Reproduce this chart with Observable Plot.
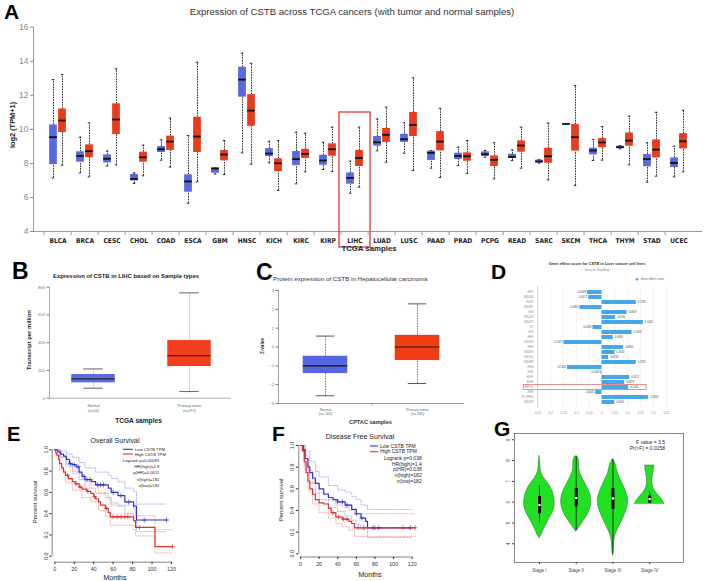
<!DOCTYPE html>
<html>
<head>
<meta charset="utf-8">
<script src="https://cdn.jsdelivr.net/npm/d3@7"></script>
<script src="https://cdn.jsdelivr.net/npm/@observablehq/plot@0.6"></script>
<style>
  body { margin: 0; background: #fff; }
  #fig { position: relative; width: 709px; height: 581px; overflow: hidden; background: #fff; }
  #fig svg { position: absolute; overflow: visible; }
</style>
</head>
<body>
<div id="fig"></div>
<script>
// ---------- Panel A: CSTB across TCGA cancers ----------
const cancers = ["BLCA","BRCA","CESC","CHOL","COAD","ESCA","GBM","HNSC","KICH","KIRC","KIRP","LIHC",
                 "LUAD","LUSC","PAAD","PRAD","PCPG","READ","SARC","SKCM","THCA","THYM","STAD","UCEC"];
// [lower whisker, Q1, median, Q3, upper whisker], log2(TPM+1)
const normalStats = [
  [7.15,7.93,9.54,10.26,12.92],[7.44,8.07,8.44,8.68,9.54],[7.84,8.03,8.27,8.50,8.72],[6.82,6.97,7.09,7.35,7.44],
  [8.19,8.64,8.83,8.99,9.38],[5.66,6.31,6.94,7.33,9.64],[7.37,7.42,7.70,7.74,7.74],[8.62,11.89,12.92,13.65,14.47],
  [8.03,8.40,8.58,8.87,9.30],[6.80,7.87,8.25,8.70,9.83],[7.64,7.89,8.17,8.48,9.24],[6.25,6.78,7.15,7.44,8.13],
  [8.74,9.01,9.24,9.58,10.61],[8.60,9.23,9.42,9.71,10.38],[7.72,8.17,8.62,8.72,8.76],[7.87,8.23,8.44,8.60,8.95],
  [8.36,8.40,8.54,8.68,8.76],[8.17,8.29,8.38,8.54,8.79],[8.01,8.03,8.11,8.19,8.23],[10.32,10.32,10.32,10.32,10.32],
  [8.17,8.50,8.76,8.89,9.40],[8.85,8.87,8.95,9.01,9.05],[6.90,7.80,8.25,8.52,9.21],[7.21,7.76,8.03,8.32,9.01]
];
const tumorStats = [
  [7.89,9.81,10.52,11.20,13.22],[7.21,8.34,8.72,9.09,10.38],[7.91,9.69,10.58,11.50,13.55],[7.27,8.07,8.36,8.66,9.07],
  [7.78,8.76,9.28,9.60,10.67],[6.92,8.64,9.58,10.71,13.94],[7.35,8.15,8.52,8.76,9.34],[7.95,10.18,11.10,12.04,13.88],
  [6.41,7.52,8.01,8.27,9.34],[7.50,8.29,8.56,8.83,9.77],[7.52,8.42,8.83,9.15,10.13],[6.60,7.82,8.31,8.76,10.13],
  [8.07,9.23,9.68,10.05,11.30],[7.58,9.58,10.26,10.99,13.02],[7.17,8.74,9.28,9.87,11.24],[7.41,8.13,8.42,8.62,9.34],
  [7.09,7.82,8.21,8.44,9.21],[7.72,8.66,9.05,9.32,10.13],[7.03,8.01,8.42,8.89,10.36],[6.70,8.72,9.54,10.28,12.57],
  [8.19,8.91,9.23,9.46,10.16],[7.91,9.01,9.34,9.79,10.77],[7.25,8.32,8.81,9.38,11.00],[7.50,8.85,9.30,9.75,11.12]
];
const aTicks = [4, 6, 8, 10, 12, 14, 16];
const aHighlight = [{cancer: "LIHC", bottom: 3.06, top: 10.99}];

// ---------- Panel B: LIHC transcript per million ----------
const bGroups = ["Normal", "Primary tumor"];
const bCounts = ["(n=50)", "(n=371)"];
const bStats = [[72, 110.5, 139, 170.6, 211], [48, 228, 307.5, 415.6, 759]];
const bTicks = [0, 200, 400, 600, 800];

// ---------- Panel C: CPTAC protein z-values ----------
const cGroups = ["Normal", "Primary tumor"];
const cCounts = ["(n= 165)", "(n= 165)"];
const cStats = [[-2.59, -1.41, -1.00, -0.49, 0.58], [-1.94, -0.72, 0.00, 0.62, 2.29]];
const cTicks = [-3, -2, -1, 0, 1, 2, 3];

// ---------- Panel D: DepMap gene effect ----------
const cellLines = ["JHH7","SNU449","HUH7","SNU387","HLE","SNU423","SNU475","LI7","HLF","JHH1","SNU398","JHH2",
                   "SNU878","SNU761","SNU886","JHH4","JHH5","HUH1","HUH6","HEPG2","JHH6","PLCPRF5","SNU182"];
const geneEffect = [-0.0568,-0.0517,0.1331,-0.0853,0.0969,0.0530,0.1602,-0.0349,0.1163,0.0439,-0.1473,0.0840,
                    0.0504,0.0258,0.1331,-0.1344,-0.0039,0.1072,0.0879,0.1034,-0.0245,0.1809,0.0491];
const dTicks = [-0.25,-0.2,-0.15,-0.1,-0.05,0,0.05,0.1,0.15,0.2,0.25];
const dHighlight = [{name: "HEPG2", from: -0.303, to: 0.1725}];

// ---------- Panel E: overall survival (months, survival) ----------
const osLow = [[0,1],[3,0.98],[6,0.96],[9,0.94],[12,0.91],[15,0.87],[18,0.86],[22,0.84],[25,0.79],[28,0.75],[31,0.72],
               [38,0.70],[42,0.67],[55,0.64],[58,0.60],[65,0.57],[72,0.51],[81,0.47],[84,0.34],[115,0.34]];
const osHigh = [[0,1],[1,0.97],[2,0.95],[4,0.91],[5,0.87],[7,0.83],[9,0.79],[11,0.76],[14,0.73],[18,0.70],[21,0.68],
                [25,0.65],[28,0.63],[33,0.61],[37,0.59],[40,0.56],[42,0.54],[45,0.51],[47,0.48],[52,0.45],[55,0.41],
                [57,0.37],[81,0.335],[83,0.27],[103,0.09],[121,0.09]];
const osLowUpper = [[0,1],[6,0.99],[12,0.96],[18,0.93],[25,0.88],[31,0.83],[42,0.79],[55,0.76],[58,0.73],[65,0.70],
                    [72,0.64],[81,0.61],[84,0.49],[115,0.49]];
const osLowLower = [[0,1],[6,0.93],[12,0.86],[18,0.80],[25,0.72],[31,0.64],[42,0.59],[55,0.55],[58,0.50],[65,0.47],
                    [72,0.40],[81,0.36],[84,0.23],[115,0.23]];
const osHighUpper = [[0,1],[5,0.93],[11,0.84],[18,0.78],[28,0.72],[37,0.67],[45,0.60],[52,0.55],[57,0.48],[81,0.45],
                     [83,0.38],[103,0.25],[121,0.25]];
const osHighLower = [[0,1],[5,0.81],[11,0.69],[18,0.62],[28,0.55],[37,0.51],[45,0.43],[52,0.37],[57,0.29],[81,0.25],
                     [83,0.19],[103,0.03],[121,0.03]];
const osLowCensor = [16, 20, 24, 30, 33, 36, 44, 47, 50, 60, 68, 76, 92, 115];
const osHighCensor = [13, 22, 26, 34, 41, 53, 60, 64, 68, 72, 75, 87, 121];

// ---------- Panel F: disease free survival ----------
const dfsLow = [[0,1],[3,0.96],[5,0.88],[8,0.80],[10,0.75],[13,0.70],[16,0.65],[20,0.60],[25,0.55],[30,0.52],[35,0.50],
                [40,0.48],[48,0.45],[55,0.41],[60,0.37],[65,0.33],[70,0.30],[72,0.24],[118,0.24]];
const dfsHigh = [[0,1],[2,0.95],[4,0.85],[6,0.75],[8,0.67],[10,0.60],[13,0.55],[16,0.50],[20,0.47],[25,0.46],[30,0.42],
                 [33,0.38],[38,0.34],[45,0.32],[52,0.30],[55,0.28],[58,0.24],[123,0.24]];
const dfsLowUpper = [[0,1],[5,0.95],[10,0.85],[16,0.76],[20,0.71],[30,0.63],[40,0.59],[48,0.57],[55,0.53],[60,0.50],
                     [65,0.45],[72,0.41],[120,0.41]];
const dfsLowLower = [[0,1],[5,0.82],[10,0.65],[16,0.56],[20,0.50],[30,0.43],[40,0.39],[48,0.35],[55,0.31],[60,0.27],
                     [65,0.23],[72,0.15],[120,0.15]];
const dfsHighUpper = [[0,1],[4,0.91],[8,0.77],[13,0.65],[20,0.56],[30,0.50],[38,0.45],[45,0.43],[52,0.40],[58,0.37],[123,0.37]];
const dfsHighLower = [[0,1],[4,0.78],[8,0.58],[13,0.46],[20,0.38],[30,0.33],[38,0.28],[45,0.25],[52,0.22],[58,0.16],[123,0.16]];
const dfsLowCensor = [40, 45, 50, 60, 66, 78, 84, 118];
const dfsHighCensor = [35, 41, 46, 50, 62, 68, 80, 110, 123];
const survTicksX = [0, 20, 40, 60, 80, 100, 120];
const survTicksY = [0, 0.2, 0.4, 0.6, 0.8, 1.0];

// ---------- Panel G: expression by stage ----------
const stages = ["Stage I", "Stage II", "Stage III", "Stage IV"];
// [value, half-width in stage units]
const violinI = [[4.28,0],[4.4,0.046],[4.72,0.128],[5.04,0.217],[5.36,0.318],[5.68,0.4],[5.92,0.415],[6.24,0.4],
                 [6.56,0.345],[6.88,0.245],[7.2,0.11],[7.52,0.036],[7.9,0.02],[8.24,0]];
const violinII = [[4.6,0],[4.8,0.09],[5.04,0.18],[5.36,0.3],[5.68,0.38],[6.0,0.41],[6.32,0.39],[6.72,0.3],
                  [7.12,0.18],[7.52,0.09],[8.0,0.072],[8.2,0.03]];
const violinIII = [[3.44,0],[3.68,0.018],[4.0,0.027],[4.32,0.054],[4.64,0.12],[5.04,0.23],[5.44,0.33],[5.84,0.4],
                   [6.16,0.41],[6.56,0.345],[6.96,0.245],[7.36,0.14],[7.84,0.07],[8.08,0]];
const violinIV = [[5.92,0.4],[6.16,0.32],[6.4,0.2],[6.64,0.11],[6.88,0.073],[7.2,0.08],[7.52,0.11],[7.76,0.127]];
// [lower whisker, Q1, median, Q3, upper whisker]
const stageStats = [[5.0,5.45,5.86,6.27,6.8],[4.62,5.78,6.2,6.65,8.18],[3.5,5.65,6.18,6.65,8.05],[5.92,5.95,6.15,6.3,6.5]];
const stageTicks = [4, 5, 6, 7, 8, 9];

// ================= drawing =================
const fig = document.getElementById("fig");
const FONT = "Liberation Sans, Arial, sans-serif";
const baseStyle = {background: "transparent", fontFamily: FONT, overflow: "visible"};
function place(svg, left, top) {
  svg.style.left = left + "px";
  svg.style.top = top + "px";
  fig.appendChild(svg);
}
const toBox = (s) => ({lo: s[0], q1: s[1], med: s[2], q3: s[3], hi: s[4]});

// ---- A ----
{
  const W = 709, mL = 33, mR = 7;
  const bw = (W - mL - mR) / cancers.length, half = bw / 2;
  const normalRows = cancers.map((c, i) => ({cancer: c, ...toBox(normalStats[i])}));
  const tumorRows = cancers.map((c, i) => ({cancer: c, ...toBox(tumorStats[i])}));
  const boxW = 8.6, off = 4.5, capW = 3.4;
  function boxes(rows, side, fill) {
    const inL = half + side * off - boxW / 2, inR = bw - inL - boxW;
    const cL = half + side * off - capW / 2, cR = bw - cL - capW;
    const wh = {x: "cancer", dx: side * off, stroke: "#1a1a1a", strokeWidth: 0.9, strokeDasharray: "1.6,1"};
    return [
      Plot.ruleX(rows, {...wh, y1: "q3", y2: "hi"}),
      Plot.ruleX(rows, {...wh, y1: "lo", y2: "q1"}),
      Plot.tickY(rows, {x: "cancer", y: "hi", insetLeft: cL, insetRight: cR, stroke: "#1a1a1a", strokeWidth: 0.9}),
      Plot.tickY(rows, {x: "cancer", y: "lo", insetLeft: cL, insetRight: cR, stroke: "#1a1a1a", strokeWidth: 0.9}),
      Plot.barY(rows, {x: "cancer", y1: "q1", y2: "q3", fill, insetLeft: inL, insetRight: inR}),
      Plot.tickY(rows, {x: "cancer", y: "med", insetLeft: inL, insetRight: inR, stroke: "#111", strokeWidth: 1.8})
    ];
  }
  const svg = Plot.plot({
    width: W, height: 260, marginTop: 26.7, marginBottom: 29, marginLeft: mL, marginRight: mR,
    style: baseStyle,
    x: {type: "band", domain: cancers, padding: 0, axis: null},
    y: {domain: [4, 16], axis: null},
    marks: [
      Plot.ruleY([4], {stroke: "#9a9a9a"}),
      Plot.frame({anchor: "left", stroke: "#9a9a9a"}),
      Plot.ruleX(cancers, {x: d => d, y1: 4, y2: 3.75, dx: -half, stroke: "#9a9a9a"}),
      Plot.axisY(aTicks, {tickSize: 3, tickPadding: 2, fontSize: 8.5, color: "#8a8a8a", label: null}),
      Plot.text(cancers, {x: d => d, y: 4, dy: 9, text: d => d, fontSize: 6.6, fontWeight: "bold",
                          fontFamily: "DejaVu Sans Condensed, DejaVu Sans, sans-serif", fill: "#222"}),
      ...boxes(normalRows, -1, "#5868de"),
      ...boxes(tumorRows, 1, "#e83c1c"),
      Plot.barY(aHighlight, {x: "cancer", y1: "bottom", y2: "top", fill: "none", stroke: "#e8534c",
                             strokeWidth: 1.5, insetLeft: -2, insetRight: -2})
    ]
  });
  place(svg, 0, 0);
}

// ---- B ----
{
  const rows = bGroups.map((g, i) => ({group: g, n: bCounts[i], ...toBox(bStats[i])}));
  const bw = 48.5;
  const svg = Plot.plot({
    width: 235, height: 150, marginTop: 6.7, marginBottom: 32.3, marginLeft: 49, marginRight: 5,
    style: baseStyle,
    x: {type: "band", domain: bGroups, paddingInner: 0.5, paddingOuter: 0.183, align: 0.553, axis: null},
    y: {domain: [0, 800], axis: null},
    color: {domain: bGroups, range: ["#5b6ce6", "#f23e1c"]},
    marks: [
      Plot.frame({anchor: "left", stroke: "#9a9a9a", strokeWidth: 0.8}),
      Plot.frame({anchor: "bottom", stroke: "#9a9a9a", strokeWidth: 0.8}),
      Plot.axisY(bTicks, {tickSize: 2.5, tickPadding: 2, fontSize: 4.2, color: "#777", label: null}),
      Plot.ruleX(rows, {x: "group", y1: "q3", y2: "hi", stroke: "#9a9a9a", strokeDasharray: "1,1", strokeWidth: 0.8}),
      Plot.ruleX(rows, {x: "group", y1: "lo", y2: "q1", stroke: "#9a9a9a", strokeDasharray: "1,1", strokeWidth: 0.8}),
      Plot.tickY(rows, {x: "group", y: "hi", inset: (bw - 20) / 2, stroke: "#555", strokeWidth: 0.9}),
      Plot.tickY(rows, {x: "group", y: "lo", inset: (bw - 20) / 2, stroke: "#555", strokeWidth: 0.9}),
      Plot.barY(rows, {x: "group", y1: "q1", y2: "q3", fill: "group", insetLeft: 2.25, insetRight: 2.25}),
      Plot.tickY(rows, {x: "group", y: "med", inset: 2.25, stroke: "#2a1410", strokeWidth: 1.2, strokeOpacity: 0.85}),
      Plot.text(rows, {x: "group", y: 0, dy: 8, text: "group", fontSize: 3.8, fill: "#666"}),
      Plot.text(rows, {x: "group", y: 0, dy: 12.3, text: "n", fontSize: 3.8, fill: "#666"})
    ]
  });
  place(svg, 0, 280);
}

// ---- C ----
{
  const rows = cGroups.map((g, i) => ({group: g, n: cCounts[i], ...toBox(cStats[i])}));
  const bw = (230 - 38 - 7) / 2, boxIn = (bw - 45) / 2;
  const svg = Plot.plot({
    width: 230, height: 147, marginTop: 7, marginBottom: 27, marginLeft: 38, marginRight: 7,
    style: baseStyle,
    x: {type: "band", domain: cGroups, padding: 0, axis: null},
    y: {domain: [-3, 3], axis: null},
    color: {domain: cGroups, range: ["#5466e0", "#f03c14"]},
    marks: [
      Plot.frame({anchor: "left", stroke: "#777", strokeWidth: 0.7}),
      Plot.frame({anchor: "bottom", stroke: "#777", strokeWidth: 0.7}),
      Plot.axisY(cTicks, {tickSize: 2.5, tickPadding: 2, fontSize: 4.2, color: "#777", label: null}),
      Plot.ruleX([cGroups[0]], {x: d => d, y1: -3, y2: -3.13, dx: bw / 2, stroke: "#777", strokeWidth: 0.7}),
      Plot.ruleX(rows, {x: "group", y1: "q3", y2: "hi", stroke: "#555", strokeDasharray: "1.4,1.2", strokeWidth: 0.8}),
      Plot.ruleX(rows, {x: "group", y1: "lo", y2: "q1", stroke: "#555", strokeDasharray: "1.4,1.2", strokeWidth: 0.8}),
      Plot.tickY(rows, {x: "group", y: "hi", inset: (bw - 19) / 2, stroke: "#444", strokeWidth: 0.9}),
      Plot.tickY(rows, {x: "group", y: "lo", inset: (bw - 19) / 2, stroke: "#444", strokeWidth: 0.9}),
      Plot.barY(rows, {x: "group", y1: "q1", y2: "q3", fill: "group", insetLeft: boxIn, insetRight: boxIn}),
      Plot.tickY(rows, {x: "group", y: "med", inset: boxIn, stroke: "#1a1010", strokeWidth: 1.2}),
      Plot.text(rows, {x: "group", y: -3, dy: 6, text: "group", fontSize: 3.6, fill: "#666"}),
      Plot.text(rows, {x: "group", y: -3, dy: 10, text: "n", fontSize: 3.6, fill: "#666"})
    ]
  });
  place(svg, 240, 283);
}

// ---- D ----
{
  const rows = cellLines.map((name, i) => ({name, value: geneEffect[i]}));
  const svg = Plot.plot({
    width: 229, height: 140, marginTop: 3.6, marginBottom: 14.3, marginLeft: 57, marginRight: 43,
    style: baseStyle,
    x: {domain: [-0.25, 0.25], axis: null},
    y: {type: "band", domain: cellLines, paddingInner: 0.25, paddingOuter: 0.125, axis: null},
    marks: [
      Plot.gridX(dTicks, {stroke: "#e4e4e4", strokeOpacity: 1, strokeWidth: 0.5}),
      Plot.ruleX([-0.25], {stroke: "#bdbdbd", strokeWidth: 0.6}),
      Plot.barX(rows, {y: "name", x: "value", fill: "#45a6ea"}),
      Plot.text(rows, {filter: d => d.value >= 0, y: "name", x: "value", text: d => d.value.toFixed(4),
                       textAnchor: "start", dx: 1.5, fontSize: 2.6, fill: "#444"}),
      Plot.text(rows, {filter: d => d.value < 0, y: "name", x: "value", text: d => d.value.toFixed(4),
                       textAnchor: "end", dx: -1.5, fontSize: 2.6, fill: "#444"}),
      Plot.axisY({tickSize: 0, tickPadding: 4, fontSize: 2.6, color: "#888", label: null}),
      Plot.axisX(dTicks, {tickSize: 0, tickPadding: 3.4, fontSize: 3.2, color: "#888", label: null,
                          tickFormat: d => String(+d.toFixed(2))}),
      Plot.barX(dHighlight, {y: "name", x1: "from", x2: "to", fill: "none", stroke: "#e06464",
                             strokeWidth: 0.7, insetTop: -0.6, insetBottom: -0.6})
    ]
  });
  place(svg, 480, 282);
}

// ---- E & F: Kaplan-Meier curves ----
const asRows = (pts, group) => pts.map(([m, s]) => ({m, s, group}));
const stepAt = (pts, m) => { let s = pts[0][1]; for (const [t, v] of pts) if (t <= m) s = v; return s; };
const BLUE = "#2f35d2", RED = "#df2f2f", BLUE_CI = "#8a8ef0", RED_CI = "#f08a8a";
function kmPlot({low, high, lowU, lowL, highU, highL, lowC, highC, width, height, mL, mT, mB, mR, axisDx, axisDy}) {
  const cens = [...lowC.map(m => ({m, s: stepAt(low, m), group: "low"})),
                ...highC.map(m => ({m, s: stepAt(high, m), group: "high"}))];
  const ci = {x: "m", y: "s", curve: "step-after", strokeWidth: 0.6, strokeDasharray: "2,1.4"};
  return Plot.plot({
    width, height, marginTop: mT, marginBottom: mB, marginLeft: mL, marginRight: mR,
    style: baseStyle,
    x: {domain: [0, 120], axis: null},
    y: {domain: [0, 1], axis: null},
    color: {domain: ["low", "high"], range: [BLUE, RED]},
    marks: [
      Plot.ruleY([0], {x1: 0, x2: 120, dy: axisDy, stroke: "#333", strokeWidth: 0.6}),
      Plot.ruleX([0], {y1: 0, y2: 1, dx: axisDx, stroke: "#333", strokeWidth: 0.6}),
      Plot.axisX(survTicksX, {tickSize: 2.5, tickPadding: 2.5, dy: axisDy, fontSize: 5.3, color: "#333", label: null}),
      Plot.axisY(survTicksY, {tickSize: 2.5, tickPadding: 2, dx: axisDx, tickRotate: -90, fontSize: 5.3,
                              color: "#333", label: null, tickFormat: d => d.toFixed(1)}),
      Plot.line(asRows(lowU, "low"), {...ci, stroke: BLUE_CI}),
      Plot.line(asRows(lowL, "low"), {...ci, stroke: BLUE_CI}),
      Plot.line(asRows(highU, "high"), {...ci, stroke: RED_CI}),
      Plot.line(asRows(highL, "high"), {...ci, stroke: RED_CI}),
      Plot.line(asRows(low, "low"), {x: "m", y: "s", curve: "step-after", stroke: BLUE, strokeWidth: 1.2}),
      Plot.line(asRows(high, "high"), {x: "m", y: "s", curve: "step-after", stroke: RED, strokeWidth: 1.2}),
      Plot.dot(cens, {x: "m", y: "s", symbol: "plus", r: 1.7, stroke: "group", strokeWidth: 0.7})
    ]
  });
}
place(kmPlot({low: osLow, high: osHigh, lowU: osLowUpper, lowL: osLowLower, highU: osHighUpper, highL: osHighLower,
              lowC: osLowCensor, highC: osHighCensor, width: 230, height: 138,
              mL: 54.3, mT: 6.3, mB: 25.3, mR: 59, axisDx: -2.6, axisDy: 6}), 0, 443);
place(kmPlot({low: dfsLow, high: dfsHigh, lowU: dfsLowUpper, lowL: dfsLowLower, highU: dfsHighUpper, highL: dfsHighLower,
              lowC: dfsLowCensor, highC: dfsHighCensor, width: 240, height: 141,
              mL: 70, mT: 5, mB: 27.7, mR: 58.3, axisDx: -1.7, axisDy: 3.2}), 230, 440);

// ---- G: violins by stage ----
{
  const profiles = [violinI, violinII, violinIII, violinIV];
  const vio = profiles.flatMap((p, i) => p.map(([v, w]) => ({stage: i + 1, v, w})));
  const box = stageStats.map((s, i) => ({stage: i + 1, ...toBox(s)}));
  const svg = Plot.plot({
    width: 219, height: 156, marginTop: 8, marginBottom: 19, marginLeft: 24, marginRight: 26,
    style: baseStyle,
    x: {domain: [0.32, 4.92], axis: null},
    y: {domain: [3.1, 9.3], axis: null},
    marks: [
      Plot.areaX(vio, {y: "v", x1: d => d.stage - d.w, x2: d => d.stage + d.w, z: "stage",
                       fill: "#22e024", stroke: "#1d6e1d", strokeWidth: 0.5, curve: "catmull-rom"}),
      Plot.ruleX(box, {x: "stage", y1: "lo", y2: "hi", stroke: "#000", strokeWidth: 0.7}),
      Plot.ruleX(box, {x: "stage", y1: "q1", y2: "q3", stroke: "#000", strokeWidth: 3}),
      Plot.dot(box, {x: "stage", y: "med", r: 1.3, fill: "#fff"}),
      Plot.frame({stroke: "#555", strokeWidth: 0.7}),
      Plot.axisY(stageTicks, {tickSize: 2, tickPadding: 3, tickRotate: -90, fontSize: 4.5, color: "#444", label: null}),
      Plot.axisX([1, 2, 3, 4], {tickSize: 2, tickPadding: 4, fontSize: 4.5, color: "#444", label: null,
                                tickFormat: i => stages[i - 1]})
    ]
  });
  place(svg, 490, 425);
}

// ---- titles, panel letters, axis titles and legends ----
const ov = d3.create("svg").attr("width", 709).attr("height", 581)
  .style("left", "0px").style("top", "0px").style("font-family", FONT);
function txt(s, x, y, o = {}) {
  const t = ov.append("text").attr("x", x).attr("y", y).text(s)
    .attr("font-size", o.size || 8).attr("font-weight", o.weight || "normal")
    .attr("text-anchor", o.anchor || "start").attr("fill", o.fill || "#000");
  if (o.rotate) t.attr("transform", `rotate(${o.rotate},${x},${y})`);
  if (o.family) t.attr("font-family", o.family);
  return t;
}
function legLine(x1, x2, y, color) {
  ov.append("line").attr("x1", x1).attr("x2", x2).attr("y1", y).attr("y2", y)
    .attr("stroke", color).attr("stroke-width", 1.1);
}
// letters
txt("A", 4, 19, {size: 21, weight: "bold"});
txt("B", 12, 279, {size: 23, weight: "bold"});
txt("C", 256, 280, {size: 23, weight: "bold"});
txt("D", 491, 279, {size: 21, weight: "bold"});
txt("E", 7, 441, {size: 20, weight: "bold"});
txt("F", 272, 441, {size: 21, weight: "bold"});
txt("G", 494, 436, {size: 21, weight: "bold"});
// A
txt("Expression of CSTB across TCGA cancers (with tumor and normal samples)", 352, 15, {size: 9.6, anchor: "middle", fill: "#333"});
txt("log2 (TPM+1)", 15, 125, {size: 7.4, weight: "bold", anchor: "middle", rotate: -90, fill: "#222"});
txt("TCGA samples", 369, 251, {size: 7.8, weight: "bold", anchor: "middle", fill: "#222"});
// B
txt("Expression of CSTB in LIHC based on Sample types", 126, 278, {size: 5.9, weight: "bold", anchor: "middle", fill: "#222"});
txt("Transcript per million", 30.5, 340, {size: 5.9, weight: "bold", anchor: "middle", rotate: -90, fill: "#222"});
txt("TCGA samples", 138.5, 423, {size: 6.6, weight: "bold", anchor: "middle", fill: "#222"});
// C
txt("Protein expression of CSTB in Hepatocellular carcinoma", 273, 280.5, {size: 6.2, fill: "#333"});
txt("Z-value", 264.3, 346, {size: 4.6, weight: "bold", anchor: "middle", rotate: -90, fill: "#333"});
txt("CPTAC samples", 370.5, 423.5, {size: 5.6, weight: "bold", anchor: "middle", fill: "#333"});
// D
txt("Gene effect score for CSTB in Liver cancer cell lines", 597, 264.6, {size: 3.9, weight: "bold", anchor: "middle", fill: "#333"});
txt("Source: DepMap", 597, 271, {size: 3.3, anchor: "middle", fill: "#888"});
ov.append("circle").attr("cx", 637).attr("cy", 279.3).attr("r", 1.3).attr("fill", "#45a6ea");
txt("Gene effect score", 640.5, 280.4, {size: 3, fill: "#666"});
// E
txt("Overall Survival", 115, 443, {size: 7, anchor: "middle", fill: "#222"});
txt("Percent survival", 37, 502, {size: 6, anchor: "middle", rotate: -90, fill: "#222"});
txt("Months", 115, 579.5, {size: 7, anchor: "middle", fill: "#222"});
legLine(123, 133, 449.3, BLUE); legLine(123, 133, 454, RED);
txt("Low CSTB TPM", 135, 450.8, {size: 4.2, fill: "#222"});
txt("High CSTB TPM", 135, 455.5, {size: 4.2, fill: "#222"});
[["Logrank p=0.00091", 462.3], ["HR(high)=1.8", 468.2], ["p(HR)=0.0011", 474.2], ["n(high)=182", 480.5], ["n(low)=182", 486.8]]
  .forEach(([s, y]) => txt(s, 159.3, y, {size: 4.2, anchor: "end", fill: "#222"}));
// F
txt("Disease Free Survival", 360, 438.5, {size: 7, anchor: "middle", fill: "#222"});
txt("Percent survival", 282.5, 500, {size: 6, anchor: "middle", rotate: -90, fill: "#222"});
txt("Months", 370, 576.5, {size: 7, anchor: "middle", fill: "#222"});
legLine(370, 378.3, 446, BLUE); legLine(370, 378.3, 451.7, RED);
txt("Low CSTB TPM", 380, 447.7, {size: 5, fill: "#222"});
txt("High CSTB TPM", 380, 453.4, {size: 5, fill: "#222"});
[["Logrank p=0.038", 460], ["HR(high)=1.4", 465.7], ["p(HR)=0.038", 471.4], ["n(high)=182", 477], ["n(low)=182", 482.7]]
  .forEach(([s, y]) => txt(s, 421.7, y, {size: 5, anchor: "end", fill: "#222"}));
// G
txt("F value = 3.5", 665, 443.5, {size: 5, anchor: "end", fill: "#222"});
txt("Pr(>F) = 0.0158", 665, 450.2, {size: 5, anchor: "end", fill: "#222"});

fig.appendChild(ov.node());
</script>
</body>
</html>
